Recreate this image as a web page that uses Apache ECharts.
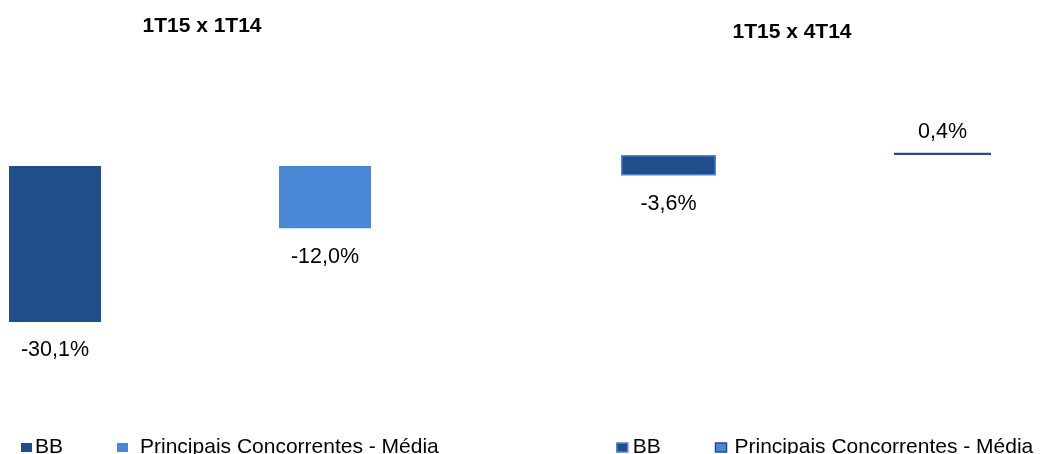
<!DOCTYPE html>
<html>
<head>
<meta charset="utf-8">
<script src="https://cdn.jsdelivr.net/npm/echarts@6/dist/echarts.min.js"></script>
<style>
  html, body { margin: 0; padding: 0; background: #ffffff; }
  #chart { width: 1041px; height: 454px; }
</style>
</head>
<body>
<div id="chart"></div>
<script>
// Two comparison panels: year-on-year and quarter-on-quarter change
const panelTitles = ['1T15 x 1T14', '1T15 x 4T14'];
const seriesNames = ['BB', 'Principais Concorrentes - Média'];
const categories = ['BB', 'Concorrentes'];
const yoyValues = [-30.1, -12.0];   // 1T15 x 1T14
const qoqValues = [-3.6, 0.4];      // 1T15 x 4T14

const DARK = '#1F4E8A';
const LIGHT = '#4A88D6';
const FONT = '"Liberation Sans", Arial, sans-serif';

const fmt = p => p.value.toFixed(1).replace('.', ',') + '%';

function label(val, size) {
  return {
    show: true,
    position: val < 0 ? 'bottom' : 'top',
    distance: val < 0 ? 17.5 : 10,
    formatter: fmt,
    color: '#000',
    fontFamily: FONT,
    fontSize: size
  };
}

function hiddenY(idx, min, max) {
  return {
    type: 'value', gridIndex: idx, min: min, max: max,
    axisLine: { show: false }, axisTick: { show: false },
    axisLabel: { show: false }, splitLine: { show: false }
  };
}

function hiddenX(idx) {
  return {
    type: 'category', gridIndex: idx, data: categories, boundaryGap: false,
    axisLine: { show: false }, axisTick: { show: false },
    axisLabel: { show: false }, splitLine: { show: false }
  };
}

// one series per legend entry; each holds a single bar in its own category
function barSeries(name, values, pos, idx, width, style) {
  const data = categories.map((c, i) => i === pos
    ? { value: values[pos], label: label(values[pos], 21.5) }
    : null);
  return {
    type: 'bar', name: name, xAxisIndex: idx, yAxisIndex: idx,
    data: data, barWidth: width, barGap: '-100%', clip: false,
    itemStyle: style, animation: false
  };
}

function legendBlock(left, seriesIdx, pads, styles) {
  return {
    data: seriesNames.map((n, i) => ({
      name: n, icon: 'rect',
      itemStyle: styles[i],
      textStyle: { padding: [0, 0, 0, pads[i]] }
    })),
    left: left, top: 437, padding: 0,
    itemWidth: 11, itemHeight: 9, itemGap: 54,
    seriesIndex: seriesIdx,
    textStyle: { fontFamily: FONT, fontSize: 21, color: '#000' }
  };
}

const titleStyle = { fontFamily: FONT, fontSize: 21, fontWeight: 'bold', color: '#000' };

const chart = echarts.init(document.getElementById('chart'));
chart.setOption({
  backgroundColor: '#ffffff',
  title: [
    { text: panelTitles[0], left: 202, top: 16, padding: 0, textAlign: 'center', textStyle: titleStyle },
    { text: panelTitles[1], left: 792, top: 22, padding: 0, textAlign: 'center', textStyle: titleStyle }
  ],
  legend: [
    legendBlock(21, [0, 1], [-2, 7],
      [{ color: DARK, borderWidth: 0 }, { color: LIGHT, borderWidth: 0 }]),
    legendBlock(616, [2, 3], [0, 3],
      [{ color: DARK, borderColor: LIGHT, borderWidth: 1.5 },
       { color: LIGHT, borderColor: DARK, borderWidth: 1.5 }])
  ],
  grid: [
    { left: 55, top: 166, width: 270, height: 207.3, containLabel: false },
    { left: 669.5, top: 149.3, width: 273, height: 34.2, containLabel: false }
  ],
  xAxis: [hiddenX(0), hiddenX(1)],
  yAxis: [hiddenY(0, -40, 0), hiddenY(1, -5, 1)],
  series: [
    barSeries(seriesNames[0], yoyValues, 0, 0, 92, { color: DARK }),
    barSeries(seriesNames[1], yoyValues, 1, 0, 92, { color: LIGHT }),
    barSeries(seriesNames[0], qoqValues, 0, 1, 95,
      { color: DARK, borderColor: LIGHT, borderWidth: 1.5 }),
    barSeries(seriesNames[1], qoqValues, 1, 1, 97,
      { color: LIGHT, borderColor: DARK, borderWidth: 1.5 })
  ]
});
</script>
</body>
</html>
